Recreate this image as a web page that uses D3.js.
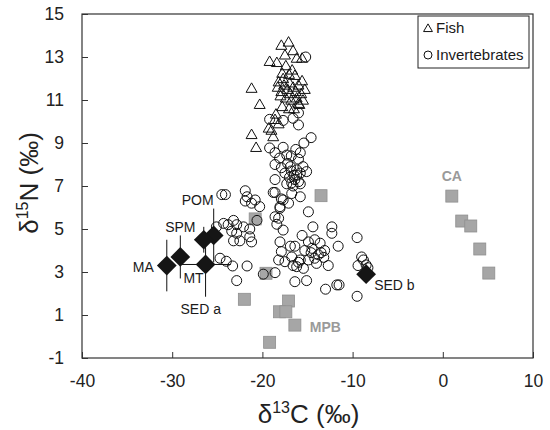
<!DOCTYPE html>
<html>
<head>
<meta charset="utf-8">
<script src="https://cdn.jsdelivr.net/npm/d3@7"></script>
<style>
  body { margin: 0; background: #fff; }
  svg { font-family: "Liberation Sans", Arial, sans-serif; }
</style>
</head>
<body>
<svg id="chart" width="550" height="430"></svg>
<script>
// δ13C / δ15N pairs (‰)
const fish = [
  [-17.9,13.55],[-17.1,13.7],[-16.6,13.3],[-17.5,13.1],[-19.2,12.8],[-18.4,12.75],
  [-16.2,12.95],[-15.6,12.95],[-17.4,12.6],[-16.7,12.4],[-17.8,12.25],[-17.05,12.2],
  [-16.4,12.15],[-15.6,11.9],[-17.7,12.0],[-18.3,11.6],[-17.9,11.4],[-17.6,11.7],
  [-17.2,11.5],[-16.9,11.3],[-16.6,11.6],[-16.3,11.4],[-16.0,11.7],[-17.4,11.1],
  [-16.8,11.0],[-18.0,11.2],[-15.7,11.3],[-15.5,11.0],[-17.0,11.8],[-16.2,11.1],
  [-15.9,10.8],[-18.2,11.85],[-15.3,11.5],[-20.3,10.8],[-17.8,10.7],[-17.05,10.6],
  [-16.5,10.6],[-16.0,10.85],[-18.5,10.35],[-18.6,10.1],[-18.2,9.9],[-19.3,9.7],
  [-18.8,9.3],[-20.7,8.8],[-21.2,11.55],[-21.2,9.4],[-19.0,9.6]
];

const invertebrates = [
  [-15.2,13.0],
  [-19.2,10.1],[-17.7,10.05],[-16.6,10.15],[-16.0,9.84],[-16.0,10.4],[-15.4,9.0],[-14.6,9.25],
  [-19.2,8.77],[-18.6,8.55],[-17.7,8.8],[-16.3,8.7],[-18.1,8.3],[-16.8,8.4],[-16.0,8.25],[-15.5,7.9],
  [-17.3,8.44],[-15.8,8.55],[-18.6,8.0],[-16.9,7.9],[-15.1,7.67],[-16.2,7.5],[-17.9,7.85],
  [-17.2,8.05],[-16.8,7.7],[-16.5,7.5],[-16.2,7.75],[-17.0,7.4],[-16.4,7.3],[-15.8,7.6],
  [-17.5,7.6],[-16.0,7.2],[-16.75,7.15],[-17.3,7.1],[-15.8,7.1],[-18.6,7.3],[-16.6,7.0],
  [-18.6,6.7],[-16.75,6.65],[-15.8,6.5],[-17.7,6.35],[-18.05,5.97],[-14.9,5.8],[-18.4,5.22],
  [-24.5,6.6],[-24.1,6.6],[-21.9,6.78],[-21.7,6.5],[-21.9,6.3],[-20.8,6.35],[-20.3,6.04],
  [-21.2,6.2],[-18.8,6.7],[-17.9,6.4],[-17.1,6.2],[-18.05,6.04],[-18.6,5.57],[-18.2,5.5],
  [-25.1,5.1],[-24.3,5.26],[-23.8,5.2],[-23.2,5.4],[-22.85,5.2],[-22.1,5.1],[-21.4,5.0],
  [-23.4,4.9],[-22.85,4.8],[-20.6,5.4],
  [-23.2,4.45],[-22.5,4.45],[-21.4,4.64],[-21.2,4.4],[-17.7,4.95],
  [-24.7,3.64],[-24.0,3.5],[-23.3,3.28],[-21.7,3.28],[-22.85,2.6],[-19.9,2.9],[-18.6,2.97],
  [-18.05,4.4],[-16.9,4.2],[-17.9,3.95],[-18.2,3.56],[-17.5,3.48],[-16.75,3.7],[-16.6,3.3],
  [-14.4,5.1],[-12.3,5.1],[-12.3,4.8],[-11.6,4.2],[-9.5,4.6],
  [-15.6,4.7],[-14.9,4.4],[-14.2,4.5],[-13.6,4.34],[-16.4,4.2],[-15.3,4.0],[-14.5,4.1],
  [-13.1,4.0],[-13.8,3.8],[-13.2,3.68],[-14.2,3.64],[-14.9,3.56],[-15.8,3.56],[-16.2,3.25],
  [-15.45,3.17],[-12.7,3.3],[-14.0,3.4],[-13.5,3.9],[-14.6,3.9],[-16.0,3.45],
  [-9.0,3.7],[-8.8,3.56],[-9.4,3.3],[-8.5,3.33],[-8.3,3.2],[-9.5,1.87],
  [-16.4,2.55],[-15.1,2.6],[-13.0,2.2],[-11.75,2.4],[-11.5,2.4]
];

// Primary producers shown as grey squares
const mpb = [
  [-22.0,1.73],[-19.6,2.94],[-17.1,1.65],[-18.1,1.15],[-17.4,1.15],
  [-16.4,0.53],[-19.2,-0.27],[-13.5,6.55],[-20.8,5.47]
];
const ca = [[1.0,6.53],[2.1,5.37],[3.1,5.14],[4.1,4.07],[5.1,2.95]];

// Organic matter sources: mean with error bars
const sourceNames = ["MA", "SPM", "POM", "SED a", "MT", "SED b"];
const sourceC     = [-30.6, -29.1, -25.4, -26.5, -26.3, -8.5];
const sourceN     = [3.3, 3.7, 4.7, 4.5, 3.35, 2.9];
const sourceCErr  = [0, 0, 0, 0, 2.8, 0];
const sourceNErr  = [1.2, 1.0, 1.25, 0.6, 1.5, 0];

const xTicks = [-40, -30, -20, -10, 0, 10];
const yTicks = [-1, 1, 3, 5, 7, 9, 11, 13, 15];

const svg = d3.select("#chart");
const x = d3.scaleLinear().domain([-40, 10]).range([82, 533]);
const y = d3.scaleLinear().domain([-1, 15]).range([358, 14]);
const FONT = '"Liberation Sans", Arial, sans-serif';
const plain = d => String(d);   // hyphen-minus, as printed on the axes

// axes with inward ticks
const gx = svg.append("g")
  .attr("transform", `translate(0,${y(-1)})`)
  .call(d3.axisBottom(x).tickValues(xTicks).tickSizeInner(-6).tickSizeOuter(0).tickPadding(17).tickFormat(plain));
const gy = svg.append("g")
  .attr("transform", `translate(${x(-40)},0)`)
  .call(d3.axisLeft(y).tickValues(yTicks).tickSizeInner(-6).tickSizeOuter(0).tickPadding(18).tickFormat(plain));
[gx, gy].forEach(g => {
  g.attr("font-family", FONT).attr("font-size", 17.5);
  g.select(".domain").remove();
  g.selectAll(".tick line").attr("stroke", "#333");
  g.selectAll(".tick text").attr("fill", "#222");
});

// plot frame
svg.append("rect")
  .attr("x", x(-40)).attr("y", y(15))
  .attr("width", x(10) - x(-40)).attr("height", y(-1) - y(15))
  .attr("fill", "none").attr("stroke", "#333").attr("stroke-width", 1.2);

// axis titles
const xt = svg.append("text")
  .attr("x", (x(-40) + x(10)) / 2 + 1).attr("y", 423)
  .attr("text-anchor", "middle").attr("font-size", 26).attr("fill", "#222");
xt.append("tspan").text("δ");
xt.append("tspan").attr("font-size", 16).attr("dy", -10).text("13");
xt.append("tspan").attr("dy", 10).text("C (‰)");

const yt = svg.append("text")
  .attr("transform", `translate(38,${(y(-1) + y(15)) / 2 - 3}) rotate(-90)`)
  .attr("text-anchor", "middle").attr("font-size", 26).attr("fill", "#222");
yt.append("tspan").text("δ");
yt.append("tspan").attr("font-size", 16).attr("dy", -10).text("15");
yt.append("tspan").attr("dy", 10).text("N (‰)");

// grey producer squares
const sq = 12;
svg.append("g").selectAll("rect")
  .data(mpb.concat(ca)).join("rect")
  .attr("x", d => x(d[0]) - sq / 2).attr("y", d => y(d[1]) - sq / 2)
  .attr("width", sq).attr("height", sq)
  .attr("fill", "#a6a6a6").attr("stroke", "#8f8f8f").attr("stroke-width", 0.8);

// invertebrates: open circles
svg.append("g").selectAll("circle")
  .data(invertebrates).join("circle")
  .attr("cx", d => x(d[0])).attr("cy", d => y(d[1])).attr("r", 5)
  .attr("fill", "none").attr("stroke", "#111").attr("stroke-width", 1);

// fish: open triangles
const tri = d3.symbol().type(d3.symbolTriangle).size(52);
svg.append("g").selectAll("path")
  .data(fish).join("path")
  .attr("d", tri)
  .attr("transform", d => `translate(${x(d[0])},${y(d[1]) + 1})`)
  .attr("fill", "none").attr("stroke", "#111").attr("stroke-width", 1);

// sources
const sources = sourceNames.map((name, i) => ({
  name, c: sourceC[i], n: sourceN[i], cErr: sourceCErr[i], nErr: sourceNErr[i]
}));
const bars = svg.append("g").attr("stroke", "#111").attr("stroke-width", 1);
sources.filter(s => s.nErr > 0).forEach(s => {
  bars.append("line")
    .attr("x1", x(s.c)).attr("x2", x(s.c))
    .attr("y1", y(s.n + s.nErr)).attr("y2", y(s.n - s.nErr));
});
sources.filter(s => s.cErr > 0).forEach(s => {
  bars.append("line")
    .attr("x1", x(s.c - s.cErr)).attr("x2", x(s.c + s.cErr))
    .attr("y1", y(s.n)).attr("y2", y(s.n));
});
const diamond = d3.symbol().type(d3.symbolSquare).size(195);
svg.append("g").selectAll("path")
  .data(sources).join("path")
  .attr("d", diamond)
  .attr("transform", d => `translate(${x(d.c)},${y(d.n)}) rotate(45)`)
  .attr("fill", "#151515");

// source labels (offsets in pixels from each mean)
const labelPlace = {
  "MA":    [-13, 6.5, "end"],
  "SPM":   [0, -25, "middle"],
  "POM":   [-16, -30, "middle"],
  "SED a": [-3, 74, "middle"],
  "MT":    [-12, 19, "middle"],
  "SED b": [8, 16, "start"]
};
svg.append("g").attr("font-size", 14).attr("fill", "#1a1a1a")
  .selectAll("text").data(sources).join("text")
  .attr("x", d => x(d.c) + labelPlace[d.name][0])
  .attr("y", d => y(d.n) + labelPlace[d.name][1])
  .attr("text-anchor", d => labelPlace[d.name][2])
  .text(d => d.name);

// producer group labels
svg.append("text")
  .attr("x", x(ca[0][0])).attr("y", y(ca[0][1]) - 15)
  .attr("text-anchor", "middle").attr("font-size", 14).attr("font-weight", "bold")
  .attr("fill", "#9a9a9a").text("CA");
svg.append("text")
  .attr("x", x(mpb[5][0]) + 15).attr("y", y(mpb[5][1]) + 7)
  .attr("text-anchor", "start").attr("font-size", 14).attr("font-weight", "bold")
  .attr("fill", "#9a9a9a").text("MPB");

// legend
const lg = svg.append("g").attr("transform", "translate(418,16)");
lg.append("rect").attr("width", 111).attr("height", 52)
  .attr("fill", "#fff").attr("stroke", "#222").attr("stroke-width", 1);
lg.append("path").attr("d", d3.symbol().type(d3.symbolTriangle).size(34))
  .attr("transform", "translate(10,13)").attr("fill", "none").attr("stroke", "#111");
lg.append("text").attr("x", 18).attr("y", 17).attr("font-size", 15).attr("fill", "#1a1a1a").text("Fish");
lg.append("circle").attr("cx", 10).attr("cy", 39).attr("r", 4)
  .attr("fill", "none").attr("stroke", "#111");
lg.append("text").attr("x", 18).attr("y", 44).attr("font-size", 15).attr("fill", "#1a1a1a").text("Invertebrates");
</script>
</body>
</html>
